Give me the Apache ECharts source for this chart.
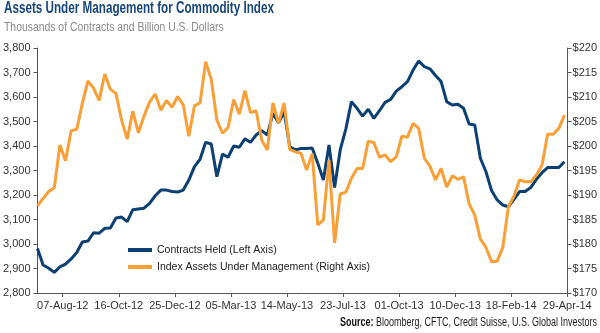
<!DOCTYPE html>
<html>
<head>
<meta charset="utf-8">
<script src="https://cdn.jsdelivr.net/npm/echarts@6/dist/echarts.min.js"></script>
<style>
  html, body { margin: 0; padding: 0; background: #fff; }
  #chart { width: 600px; height: 333px; }
</style>
</head>
<body>
<div id="chart"></div>
<script>
// weekly values, first week = index 0
const contractsHeld = [
  2982, 2914, 2901, 2884, 2907, 2918, 2939, 2965, 3008, 3012,
  3046, 3044, 3064, 3065, 3106, 3110, 3091, 3140, 3143, 3146,
  3166, 3197, 3220, 3220, 3214, 3212, 3220, 3261, 3316, 3346,
  3415, 3408, 3275, 3367, 3354, 3400, 3395, 3429, 3415, 3445,
  3463, 3445, 3533, 3495, 3540, 3397, 3384, 3390, 3390, 3392,
  3330, 3261, 3404, 3230, 3384, 3469, 3581, 3554, 3522, 3550,
  3513, 3544, 3578, 3590, 3624, 3642, 3663, 3710, 3747, 3724,
  3715, 3688, 3663, 3581, 3567, 3570, 3554, 3490, 3486, 3350,
  3295, 3218, 3180, 3159, 3152, 3182, 3214, 3214, 3231, 3264,
  3291, 3312, 3312, 3312, 3336
];
const indexAssets = [
  187.8, 189.3, 190.7, 191.5, 200.2, 197.0, 203.1, 203.4, 208.7, 213.3,
  211.8, 209.3, 214.7, 211.6, 210.7, 205.3, 201.4, 207.1, 202.7, 206.1,
  209.0, 210.6, 207.3, 209.3, 207.9, 210.1, 208.4, 202.0, 208.2, 208.8,
  217.2, 213.6, 205.3, 202.6, 203.8, 209.5, 206.5, 211.3, 206.8, 207.2,
  201.2, 199.2, 208.8, 204.6, 208.8, 199.3, 198.8, 198.5, 195.1, 198.4,
  183.9, 184.9, 197.1, 180.2, 190.2, 190.6, 193.4, 195.4, 195.4, 201.0,
  200.7, 197.7, 198.2, 196.8, 197.8, 202.0, 201.8, 204.6, 203.6, 197.5,
  195.9, 193.1, 195.4, 191.6, 193.9, 193.2, 193.7, 188.2, 185.9, 181.0,
  179.3, 176.4, 176.5, 179.3, 187.6, 189.8, 193.1, 192.7, 192.7, 194.1,
  196.1, 202.4, 202.4, 203.6, 206.3
];
const tickLabels = [
  '07-Aug-12', '16-Oct-12', '25-Dec-12', '05-Mar-13', '14-May-13',
  '23-Jul-13', '01-Oct-13', '10-Dec-13', '18-Feb-14', '29-Apr-14'
];
// tick dates fall half a week after a data point, every 10 weeks
const tickPositions = tickLabels.map((t, k) => 4.5 + 10 * k);

const FONT = "'Liberation Sans', Arial, sans-serif";
const BLUE = '#0c3f72';
const ORANGE = '#f8a037';
// the original uses a condensed face, squeeze the free text horizontally
const SQUEEZE = 0.73;

const chart = echarts.init(document.getElementById('chart'));

chart.setOption({
  animation: false,
  graphic: [{
    type: 'text',
    x: 4,
    y: 1,
    scaleX: SQUEEZE,
    style: {
      text: 'Assets Under Management for Commodity Index',
      font: 'bold 16px ' + FONT,
      fill: '#17457c',
      verticalAlign: 'top'
    }
  }, {
    type: 'text',
    x: 4,
    y: 21,
    scaleX: 0.8,
    style: {
      text: 'Thousands of Contracts and Billion U.S. Dollars',
      font: '13px ' + FONT,
      fill: '#8a8a8a',
      verticalAlign: 'top'
    }
  }, {
    type: 'text',
    x: 597,
    y: 317,
    scaleX: 0.75,
    style: {
      text: '{b|Source:} Bloomberg, CFTC, Credit Suisse, U.S. Global Investors',
      font: '12px ' + FONT,
      fill: '#222',
      align: 'right',
      verticalAlign: 'top',
      rich: { b: { font: 'bold 12px ' + FONT, fill: '#111' } }
    }
  }],
  legend: {
    orient: 'vertical',
    left: 128,
    top: 243,
    padding: 0,
    itemWidth: 24,
    itemHeight: 4,
    itemGap: 3,
    icon: 'rect',
    textStyle: { fontFamily: FONT, fontSize: 10.5, color: '#222', lineHeight: 14 },
    data: ['Contracts Held (Left Axis)', 'Index Assets Under Management (Right Axis)']
  },
  grid: { left: 31, right: 29, top: 48, bottom: 40 },
  xAxis: {
    type: 'value',
    min: -0.35,
    max: 94.55,
    splitLine: { show: false },
    axisLine: { show: true, onZero: false, lineStyle: { color: '#555', width: 1 } },
    axisTick: { show: true, customValues: tickPositions, length: 4, lineStyle: { color: '#555' } },
    axisLabel: {
      customValues: tickPositions,
      margin: 7,
      fontFamily: FONT,
      fontSize: 11,
      color: '#333',
      formatter: v => tickLabels[Math.round((v - 4.5) / 10)]
    }
  },
  yAxis: [{
    type: 'value',
    min: 2800,
    max: 3800,
    interval: 100,
    splitLine: { show: false },
    axisLine: { show: true, lineStyle: { color: '#555', width: 1 } },
    axisTick: { show: true, length: 4, lineStyle: { color: '#555' } },
    axisLabel: {
      margin: 5,
      fontFamily: FONT,
      fontSize: 11,
      color: '#333',
      formatter: v => v.toLocaleString('en-US')
    }
  }, {
    type: 'value',
    position: 'right',
    min: 170,
    max: 220,
    interval: 5,
    splitLine: { show: false },
    axisLine: { show: true, lineStyle: { color: '#555', width: 1 } },
    axisTick: { show: true, length: 4, lineStyle: { color: '#555' } },
    axisLabel: {
      margin: 5,
      fontFamily: FONT,
      fontSize: 11,
      color: '#333',
      formatter: '${value}'
    }
  }],
  series: [{
    name: 'Contracts Held (Left Axis)',
    type: 'line',
    yAxisIndex: 0,
    symbol: 'none',
    color: BLUE,
    lineStyle: { width: 3, color: BLUE },
    data: contractsHeld.map((v, i) => [i, v])
  }, {
    name: 'Index Assets Under Management (Right Axis)',
    type: 'line',
    yAxisIndex: 1,
    symbol: 'none',
    color: ORANGE,
    lineStyle: { width: 3, color: ORANGE },
    data: indexAssets.map((v, i) => [i, v])
  }]
});
</script>
</body>
</html>
